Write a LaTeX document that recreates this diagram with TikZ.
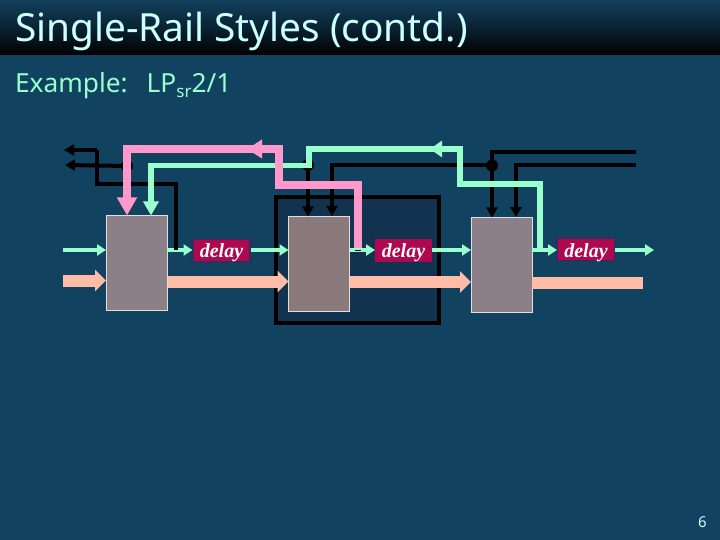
\documentclass[tikz,border=0pt]{standalone}
\usepackage{fontspec}
\setmainfont{Noto Sans}
\newfontfamily\delayfont{Liberation Serif}
\usetikzlibrary{arrows.meta}
\definecolor{bgblue}{HTML}{11425F}
\definecolor{barblue}{HTML}{123F5C}
\definecolor{darkbox}{HTML}{12334F}
\definecolor{railgreen}{HTML}{99FFCC}
\definecolor{railpink}{HTML}{FF99CC}
\definecolor{railsalmon}{HTML}{FFBDA8}
\definecolor{titlecol}{HTML}{CCFFFF}
\definecolor{blockgrey}{HTML}{8C8088}
\definecolor{blockgreyb}{HTML}{8A7A7C}
\definecolor{delaycrim}{HTML}{B0084F}
\definecolor{delayedge}{HTML}{2F2F60}
\tikzset{
  every node/.style={inner sep=0pt,outer sep=0pt},
  txt/.style={anchor=base west,text=titlecol},
  logic/.style={draw=white!75!blockgrey,line width=1pt,fill=blockgrey,minimum width=61pt,minimum height=95pt,anchor=north west},
  delaybox/.style={fill=delaycrim,draw=delayedge,line width=2.5pt,minimum width=58pt,minimum height=23pt,text=white,font=\delayfont\bfseries\itshape\fontsize{20}{20}\selectfont},
  reqline/.style={draw=railgreen,line width=3.5pt,-{Triangle[length=9pt,width=11pt]}},
  dataline/.style={draw=railsalmon,line width=12pt,-{Triangle[length=11pt,width=21pt]}},
  dataend/.style={draw=railsalmon,line width=12pt},
  ackpink/.style={draw=railpink,line width=7.5pt,line join=miter},
  ackgreen/.style={draw=railgreen,line width=5.5pt,line join=miter},
  ctl/.style={draw=black,line width=4pt,line join=miter},
  ctltip/.style={ctl,-{Triangle[length=10pt,width=11pt]}},
  joint/.style={circle,fill=black,minimum size=12pt},
}
\begin{document}
\begin{tikzpicture}[x=1pt,y=-1pt]
\useasboundingbox (0,0) rectangle (720,540);
\fill[bgblue] (0,0) rectangle (720,540);
\shade[top color=barblue,bottom color=black,middle color=barblue!55!black] (0,0) rectangle (720,55);
\node[txt,font=\fontsize{38.8}{38.8}\selectfont] (title) at (15,42) {Single-Rail Styles (contd.)};
\node[txt,text=railgreen,font=\fontsize{26.3}{26.3}\selectfont] (sub) at (15,93) {Example:\hspace{19pt}LP\raisebox{-5pt}{\fontsize{17}{17}\selectfont sr}2/1};
\node[txt,font=\fontsize{15}{15}\selectfont] (pg) at (698,527) {6};

% stage box
\draw[fill=darkbox,draw=black,line width=3.6pt] (276,197) rectangle (439,323);

% blocks and delays
\node[logic] (b1) at (106,215.5) {};
\node[logic,fill=blockgreyb] (b2) at (288.5,216.5) {};
\node[logic] (b3) at (471,217.5) {};
\node[delaybox] (d1) at (221.5,250.5) {\raisebox{-7.5pt}[0pt][0pt]{delay}};
\node[delaybox,draw=none,minimum width=57pt] (d2) at (403.5,250.5) {\raisebox{-7.5pt}[0pt][0pt]{delay}};
\node[delaybox] (d3) at (586,249.5) {\raisebox{-7.5pt}[0pt][0pt]{delay}};

% free ends
\coordinate (rin) at (63,250);
\coordinate (rout) at (654,250);
\coordinate (din) at (63,280.5);
\coordinate (dout) at (643,283);

% request rail
\draw[reqline] (rin) -- (b1.west |- rin);
\draw[reqline] (b1.east |- rin) -- (d1.west |- rin);
\draw[reqline] (d1.east |- rin) -- (b2.west |- rin);
\draw[reqline] (b2.east |- rin) -- (d2.west |- rin);
\draw[reqline] (d2.east |- rin) -- (b3.west |- rin);
\draw[reqline] (b3.east |- rin) -- (d3.west |- rin);
\draw[reqline] (d3.east |- rin) -- (rout);

% data rail
\draw[dataline] (din) -- (b1.west |- din);
\coordinate (d12) at (168,281.5);
\draw[dataline] (d12) -- (b2.west |- d12);
\coordinate (d23) at (350,282);
\draw[dataline] (d23) -- (b3.west |- d23);
\coordinate (d34) at (532,283);
\draw[dataend] (d34) -- (dout);

% black control lines
\coordinate (jl) at (127,166);
\coordinate (jm) at (308,165);
\coordinate (jr) at (492,165.5);
\coordinate (endtop) at (636,152);
\coordinate (endlow) at (636,165.5);
\coordinate (tipa) at (64,150);
\coordinate (tipb) at (65,165);
\coordinate (c1) at (97,150);
\coordinate (c2) at (97,184.5);
\coordinate (c3) at (176,184.5);
\coordinate (c4) at (176,250);
\draw[ctltip] (c1) -- (tipa);
\draw[ctl] (c1) -- (c2) -- (c3) -- (c4);
\draw[ctltip] (jl) -- (tipb);
\node[joint] (jnl) at (jl) {};
\node[joint] (jnm) at (jm) {};
\node[joint] (jnr) at (jr) {};
\draw[ctltip] (jm) -- (308,216.5);
\draw[ctl] (jr) -- (332,165.5) -- (332,190);
\draw[ctltip] (332,190) -- (332,216);
\draw[ctl] (endtop) -- (492,152) -- (492,190);
\draw[ctltip] (492,190) -- (492,217.5);
\draw[ctl] (endlow) -- (516,165.5) -- (516,190);
\draw[ctltip] (516,190) -- (516,217);

% green acknowledge
\coordinate (ga) at (540,250);
\coordinate (gb) at (540,184);
\coordinate (gc) at (460,184);
\coordinate (gd) at (460,149);
\coordinate (gmid) at (430,149);
\coordinate (ge) at (309,149);
\coordinate (gf) at (309,165.5);
\coordinate (gg) at (151,165.5);
\draw[ackgreen] (ga) -- (gb) -- (gc) -- (gd) -- (440,149);
\draw[ackgreen,-{Triangle[length=12pt,width=16pt]}] (440,149) -- (gmid);
\draw[ackgreen] (440,149) -- (ge) -- (gf) -- (gg) -- (151,202);
\draw[ackgreen,-{Triangle[length=14pt,width=15pt]}] (151,200) -- (b1.north -| gg);

% pink acknowledge
\coordinate (pa) at (358,248);
\coordinate (pb) at (358,185);
\coordinate (pc) at (279,185);
\coordinate (pd) at (279,149);
\coordinate (pmid) at (247,149);
\coordinate (pe) at (127,149);
\draw[ackpink] (pa) -- (pb) -- (pc) -- (pd) -- (262,149);
\draw[ackpink,-{Triangle[length=15pt,width=18pt]}] (262,149) -- (pmid);
\draw[ackpink] (262,149) -- (pe) -- (127,198);
\draw[ackpink,-{Triangle[length=18pt,width=19pt]}] (127,196) -- (b1.north -| pe);
\draw[black,line width=1pt] (355,250) -- (361,250);
\end{tikzpicture}
\end{document}
